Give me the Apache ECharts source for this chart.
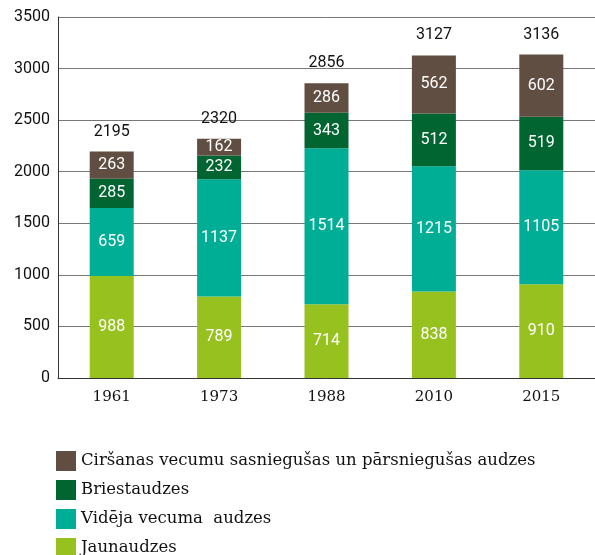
<!DOCTYPE html>
<html>
<head>
<meta charset="utf-8">
<script src="https://cdn.jsdelivr.net/npm/echarts@6/dist/echarts.min.js"></script>
<style>
  html, body { margin: 0; padding: 0; background: #fff; }
  #chart { width: 595px; height: 555px; }
</style>
</head>
<body>
<div id="chart"></div>
<script>
// gadi
const years = ['1961', '1973', '1988', '2010', '2015'];
// platības pa vecuma grupām (no apakšas uz augšu)
const jaunaudzes = [988, 789, 714, 838, 910];
const videja = [659, 1137, 1514, 1215, 1105];
const briest = [285, 232, 343, 512, 519];
const cirsanas = [263, 162, 286, 562, 602];
// kopsummas, kā rakstīts attēlā
const totals = [2195, 2320, 2856, 3127, 3136];
const names = ['Jaunaudzes', 'Vidēja vecuma  audzes', 'Briestaudzes', 'Ciršanas vecumu sasniegušas un pārsniegušas audzes'];
const colors = ['#97c11f', '#00ae96', '#006530', '#614e42'];
const yTicks = [0, 500, 1000, 1500, 2000, 2500, 3000, 3500];

const chart = echarts.init(document.getElementById('chart'));

const inLabel = {
  show: true,
  position: 'inside',
  color: '#fff',
  fontSize: 16,
  fontFamily: 'Roboto'
};

const seriesData = [jaunaudzes, videja, briest, cirsanas];
const series = seriesData.map((d, i) => ({
  name: names[i],
  type: 'bar',
  stack: 'kopa',
  barWidth: 44,
  itemStyle: { color: colors[i] },
  label: inLabel,
  data: d
}));
// kopsummas virs stabiņiem (caurspīdīgs stabiņš tikai etiķetei)
series.push({
  name: 'kopā',
  type: 'bar',
  barWidth: 44,
  barGap: '-100%',
  z: 1,
  itemStyle: { color: 'rgba(0,0,0,0)' },
  label: {
    show: true,
    position: 'top',
    distance: 12,
    color: '#111',
    fontSize: 16,
    fontFamily: 'Roboto'
  },
  data: totals
});

const option = {
  animation: false,
  color: colors,
  grid: { left: 58, right: -13, top: 17, bottom: 177 },
  legend: {
    orient: 'vertical',
    left: 51,
    top: 446,
    height: 140,
    itemWidth: 20,
    itemHeight: 20,
    itemGap: 9,
    icon: 'rect',
    data: names.slice().reverse(),
    textStyle: { fontSize: 16.5, color: '#111', fontFamily: 'DejaVu Serif' }
  },
  xAxis: {
    type: 'category',
    data: years,
    axisTick: { show: false },
    axisLine: { lineStyle: { color: '#333', width: 1 } },
    axisLabel: { color: '#111', fontSize: 15, fontFamily: 'DejaVu Serif', margin: 12 }
  },
  yAxis: {
    type: 'value',
    min: 0,
    max: yTicks[yTicks.length - 1],
    interval: 500,
    axisLine: { show: true, lineStyle: { color: '#333', width: 1 } },
    axisTick: { show: false },
    splitLine: { lineStyle: { color: '#777', width: 1 } },
    axisLabel: { color: '#111', fontSize: 16, fontFamily: 'Roboto', margin: 8, formatter: v => String(v) }
  },
  series: series
};

chart.setOption(option);
</script>
</body>
</html>
